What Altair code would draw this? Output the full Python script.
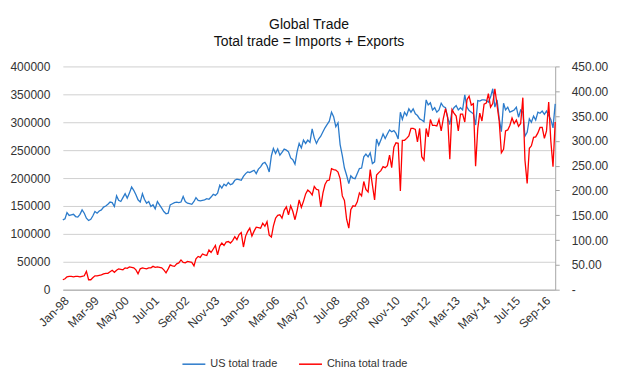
import altair as alt
import pandas as pd

# Monthly data, Jan-1998 .. Feb-2017
us_total_trade = [
    125000, 127000, 138000, 133000, 134000, 135000, 131000, 130000, 135000, 143000, 137000, 128000,
    124000, 126000, 132000, 140000, 137000, 141000, 143000, 148000, 150000, 153000, 157000, 156000,
    149000, 168000, 160000, 158000, 165000, 172000, 164000, 173000, 184000, 178000, 170000, 161000,
    157000, 172000, 162000, 155000, 158000, 149000, 152000, 145000, 158000, 152000, 146000, 140000,
    136000, 137000, 152000, 154000, 156000, 157000, 156000, 157000, 167000, 158000, 155000, 154000,
    153000, 158000, 165000, 160000, 159000, 160000, 161000, 163000, 162000, 166000, 171000, 169000,
    173000, 187000, 182000, 189000, 186000, 192000, 188000, 190000, 196000, 198000, 197000, 196000,
    203000, 208000, 211000, 210000, 212000, 214000, 208000, 216000, 220000, 226000, 228000, 222000,
    211000, 240000, 253000, 244000, 252000, 241000, 246000, 252000, 250000, 247000, 236000, 233000,
    225000, 248000, 262000, 254000, 268000, 262000, 268000, 264000, 288000, 272000, 262000, 270000,
    275000, 283000, 290000, 296000, 302000, 318000, 310000, 292000, 299000, 260000, 240000, 218000,
    205000, 190000, 204000, 200000, 199000, 208000, 217000, 218000, 238000, 243000, 238000, 245000,
    226000, 229000, 270000, 259000, 268000, 279000, 271000, 279000, 286000, 283000, 285000, 280000,
    270000, 318000, 305000, 318000, 312000, 324000, 318000, 324000, 315000, 312000, 306000, 304000,
    301000, 340000, 331000, 335000, 322000, 326000, 318000, 322000, 334000, 328000, 326000, 308000,
    296000, 320000, 326000, 330000, 322000, 326000, 322000, 349000, 327000, 321000, 318000, 315000,
    295000, 339000, 338000, 340000, 340000, 339000, 336000, 345000, 360000, 327000, 340000, 307000,
    283000, 334000, 322000, 327000, 318000, 320000, 322000, 327000, 309000, 322000, 318000, 275000,
    282000, 306000, 300000, 311000, 304000, 318000, 316000, 320000, 314000, 320000, 312000, 305000,
    290000, 333000,
]

china_total_trade = [
    20, 22, 26, 27, 27, 26, 27, 27, 26, 27, 28, 37,
    20, 20, 24, 28, 28, 29, 30, 32, 33, 33, 36, 39,
    35, 39, 42, 41, 40, 44, 43, 46, 45, 44, 40, 32,
    42, 44, 43, 42, 44, 44, 47, 45, 46, 45, 44, 40,
    34, 42, 50, 48, 47, 52, 54, 60, 55, 54, 57, 56,
    55, 48, 62, 67, 65, 72, 70, 69, 80, 75, 82, 89,
    70, 88, 94, 89, 96, 97, 94, 99, 107, 101, 111, 115,
    86, 108, 117, 124, 108, 118, 126, 125, 124, 134, 128, 137,
    110, 106, 128, 144, 150, 151, 144, 160, 167, 151, 169, 158,
    141, 160, 181, 166, 178, 193, 201, 197, 191, 208, 202, 201,
    167, 195, 212, 220, 221, 244, 242, 241, 237, 224, 189, 180,
    142, 124, 161, 169, 168, 177, 195, 189, 218, 202, 197, 242,
    211, 181, 231, 236, 240, 248, 246, 250, 271, 246, 287, 296,
    295, 199, 301, 301, 305, 310, 325, 325, 323, 298, 325, 268,
    261, 325, 308, 343, 331, 331, 330, 343, 320, 345, 365, 348,
    263, 363, 356, 350, 320, 354, 354, 338, 383, 390, 372, 375,
    249, 325, 356, 340, 374, 376, 395, 368, 375, 405, 372, 340,
    276, 283, 320, 322, 331, 346, 335, 342, 329, 335, 387, 261,
    214, 285, 290, 307, 308, 316, 327, 327, 305, 320, 378, 300,
    248, 338,
]

months = pd.date_range("1998-01-01", periods=len(us_total_trade), freq="MS").strftime("%Y-%m-%d").tolist()

tick_dates = ["1998-01", "1999-03", "2000-05", "2001-07", "2002-09", "2003-11", "2005-01",
              "2006-03", "2007-05", "2008-07", "2009-09", "2010-11", "2012-01", "2013-03",
              "2014-05", "2015-07", "2016-09"]

left_ticks = [0, 50000, 100000, 150000, 200000, 250000, 300000, 350000, 400000]
right_ticks = [0, 50, 100, 150, 200, 250, 300, 350, 400, 450]

series_names = ["US total trade", "China total trade"]
series_colors = ["#2B7BCB", "#FF0000"]

df_us = pd.DataFrame({"date": months, "value": us_total_trade, "series": series_names[0]})
df_cn = pd.DataFrame({"date": months, "value": china_total_trade, "series": series_names[1]})

FONT = "Liberation Sans"
GRID = "#D0D0D0"
AXIS = "#A6A6A6"
TEXT = "#333333"

x_values = [alt.DateTime(year=int(d[:4]), month=int(d[5:7]), date=1, utc=True) for d in tick_dates]

x_enc = alt.X(
    "date:T",
    scale=alt.Scale(type="utc", domain=[months[0], months[-1]]),
    axis=alt.Axis(
        values=x_values,
        labelExpr="utcFormat(datum.value, '%b-%y')",
        labelAngle=-45,
        labelAlign="right",
        labelBaseline="top",
        labelPadding=5,
        ticks=False,
        grid=False,
        domain=True,
        domainColor=AXIS,
        labelFont=FONT,
        labelFontSize=12,
        labelColor=TEXT,
        labelOverlap=False,
        title=None,
    ),
)

color_enc = alt.Color(
    "series:N",
    scale=alt.Scale(domain=series_names, range=series_colors),
    legend=alt.Legend(
        title=None,
        orient="none",
        legendX=119,
        legendY=286,
        direction="horizontal",
        symbolType="stroke",
        symbolSize=529,
        symbolStrokeWidth=1.5,
        labelFont=FONT,
        labelFontSize=11,
        labelColor=TEXT,
        columnPadding=18,
        labelOffset=4,
        padding=0,
    ),
)

us_layer = alt.Chart(df_us).mark_line(strokeWidth=1.3).encode(
    x=x_enc,
    y=alt.Y(
        "value:Q",
        scale=alt.Scale(domain=[0, 400000], nice=False),
        axis=alt.Axis(
            values=left_ticks,
            format="d",
            grid=True,
            gridColor=GRID,
            domain=False,
            ticks=False,
            labelPadding=13,
            labelFont=FONT,
            labelFontSize=12,
            labelColor=TEXT,
            title=None,
        ),
    ),
    color=color_enc,
)

cn_layer = alt.Chart(df_cn).mark_line(strokeWidth=1.3).encode(
    x=x_enc,
    y=alt.Y(
        "value:Q",
        scale=alt.Scale(domain=[0, 450], nice=False),
        axis=alt.Axis(
            orient="right",
            values=right_ticks,
            labelExpr="datum.value == 0 ? '-' : format(datum.value, '.2f')",
            grid=False,
            domain=True,
            domainColor=AXIS,
            ticks=True,
            tickColor=AXIS,
            tickSize=4,
            labelAlign="left",
            labelPadding=12,
            labelFont=FONT,
            labelFontSize=12,
            labelColor=TEXT,
            title=None,
        ),
    ),
    color=color_enc,
)

chart = (
    alt.layer(us_layer, cn_layer)
    .resolve_scale(y="independent")
    .properties(
        width=494,
        height=224,
        autosize=alt.AutoSizeParams(type="none"),
        padding={"left": 55, "top": 58, "right": 60, "bottom": 90},
        title=alt.TitleParams(
            text="Global Trade",
            subtitle="Total trade = Imports + Exports",
            font=FONT,
            fontSize=14,
            fontWeight="normal",
            color="#111111",
            subtitleFont=FONT,
            subtitleFontSize=14,
            subtitleColor="#111111",
            subtitlePadding=4,
            anchor="middle",
            offset=11,
        ),
    )
    .configure_view(stroke=None)
)

chart.save("out.html", embed_options={"renderer": "svg", "actions": False})
